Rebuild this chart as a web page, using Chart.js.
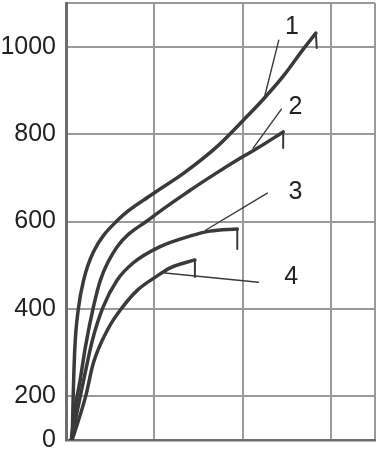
<!DOCTYPE html>
<html>
<head>
<meta charset="utf-8">
<style>
  html, body { margin: 0; padding: 0; background: #fff; }
  #wrap { width: 380px; height: 453px; }
</style>
<script src="https://cdn.jsdelivr.net/npm/chart.js@4/dist/chart.umd.min.js"></script>
</head>
<body>
<div id="wrap"><canvas id="c" width="380" height="453"></canvas></div>
<script>
// Four loading curves (1–4). x has no labels in the
// original, so it is in grid steps; y is in the axis units of the grid.
// The scan's bottom row is only half height and its baseline carries "0".
const curve1 = [[0.07, 100], [0.08, 190], [0.1, 310], [0.14, 400], [0.2, 466], [0.31, 530],
  [0.59, 604], [0.99, 664], [1.33, 710], [1.72, 773], [2.0, 830], [2.24, 881], [2.47, 935],
  [2.69, 995], [2.83, 1031]];
const curve2 = [[0.06, 100], [0.1, 169], [0.16, 237], [0.22, 313], [0.31, 404], [0.39, 466],
  [0.58, 542], [0.95, 606], [1.41, 672], [1.72, 713], [2.0, 748], [2.17, 768], [2.46, 805]];
const curve3 = [[0.06, 100], [0.2, 237], [0.3, 329], [0.42, 404], [0.58, 466], [0.76, 505],
  [1.06, 542], [1.41, 567], [1.63, 578], [1.94, 583]];
const curve4 = [[0.07, 100], [0.22, 198], [0.31, 276], [0.47, 352], [0.64, 404], [0.81, 443],
  [1.03, 475], [1.18, 494], [1.46, 512]];

// short drop at the end of each curve
const drop1 = [[2.83, 1031], [2.84, 997]];
const drop2 = [[2.46, 805], [2.46, 768]];
const drop3 = [[1.94, 583], [1.94, 537]];
const drop4 = [[1.46, 512], [1.46, 473]];

// leader lines from the numbers to the curves
const leader1 = [[2.41, 1015], [2.24, 878]];
const leader2 = [[2.44, 857], [2.12, 768]];
const leader3 = [[2.28, 665], [1.58, 580]];
const leader4 = [[2.18, 461], [1.12, 482]];

const curveNames = ['1', '2', '3', '4'];
const nameSpots = [[2.56, 1045], [2.6, 862], [2.6, 667], [2.55, 473]];

const yTickValues = [100, 200, 400, 600, 800, 1000, 1100];
const yTickLabels = ['0', '200', '400', '600', '800', '1000', ''];
const xTickValues = [0, 1, 2, 3, 3.5];

const FONT = "'Liberation Sans', Arial, sans-serif";
const INK = '#3a3a3a';

const pts = (arr) => arr.map(([x, y]) => ({ x, y }));

function lineSet(arr, width, smooth) {
  return {
    data: pts(arr),
    borderColor: INK,
    borderWidth: width,
    pointRadius: 0,
    fill: false,
    cubicInterpolationMode: smooth ? 'monotone' : 'default',
    tension: 0,
    borderCapStyle: 'round',
    borderJoinStyle: 'round',
  };
}

// numbers 1–4 next to the curves
const curveNamesPlugin = {
  id: 'curveNames',
  afterDatasetsDraw(chart) {
    const { ctx, scales: { x, y } } = chart;
    ctx.save();
    ctx.fillStyle = '#222';
    ctx.font = '25px ' + FONT;
    ctx.textAlign = 'center';
    ctx.textBaseline = 'middle';
    curveNames.forEach((name, i) => {
      const [vx, vy] = nameSpots[i];
      ctx.fillText(name, x.getPixelForValue(vx), y.getPixelForValue(vy));
    });
    ctx.restore();
  },
};

new Chart(document.getElementById('c'), {
  type: 'line',
  data: {
    datasets: [
      lineSet(curve1, 3.5, true),
      lineSet(curve2, 3.5, true),
      lineSet(curve3, 3.5, true),
      lineSet(curve4, 3.5, true),
      lineSet(drop1, 2, false),
      lineSet(drop2, 2, false),
      lineSet(drop3, 2, false),
      lineSet(drop4, 2, false),
      lineSet(leader1, 1.4, false),
      lineSet(leader2, 1.4, false),
      lineSet(leader3, 1.4, false),
      lineSet(leader4, 1.4, false),
    ],
  },
  options: {
    responsive: false,
    animation: false,
    devicePixelRatio: 1,
    layout: { padding: { top: 3, right: 5, bottom: 13, left: 0 } },
    plugins: { legend: { display: false }, tooltip: { enabled: false } },
    scales: {
      x: {
        type: 'linear',
        min: 0,
        max: 3.5,
        afterBuildTicks: (s) => { s.ticks = xTickValues.map((v) => ({ value: v })); },
        afterFit: (s) => { s.height = 0; s.paddingLeft = 0; s.paddingRight = 0; },
        ticks: { display: false },
        grid: { color: '#9a9a9a', lineWidth: 2, drawTicks: false },
        border: { color: '#6e6e6e', width: 2.5 },
      },
      y: {
        type: 'linear',
        min: 100,
        max: 1100,
        afterBuildTicks: (s) => { s.ticks = yTickValues.map((v) => ({ value: v })); },
        afterFit: (s) => { s.width = 66; s.paddingTop = 0; s.paddingBottom = 0; },
        ticks: {
          autoSkip: false,
          padding: 10,
          color: '#222',
          font: { family: FONT, size: 25 },
          callback: (v) => yTickLabels[yTickValues.indexOf(v)],
        },
        grid: { color: '#9a9a9a', lineWidth: 2, drawTicks: false },
        border: { color: '#6e6e6e', width: 3 },
      },
    },
  },
  plugins: [curveNamesPlugin],
});
</script>
</body>
</html>
